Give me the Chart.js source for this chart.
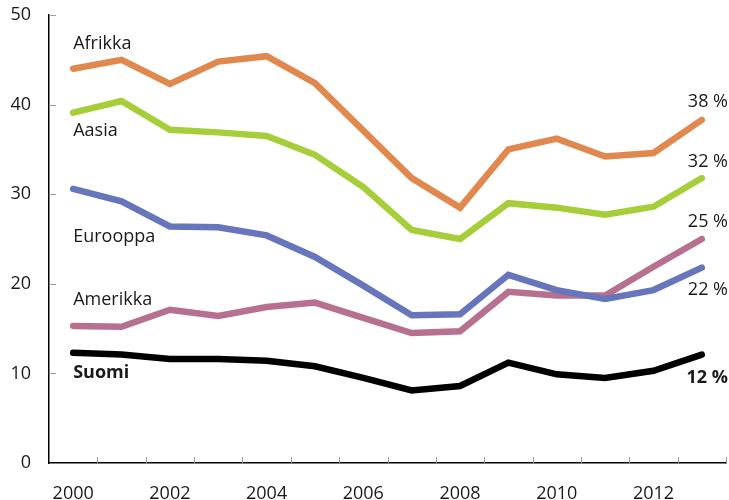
<!DOCTYPE html>
<html>
<head>
<meta charset="utf-8">
<script src="https://cdn.jsdelivr.net/npm/chart.js@4"></script>
<style>
  html, body { margin: 0; padding: 0; background: #fff; }
  #wrap { width: 729px; height: 500px; }
</style>
</head>
<body>
<div id="wrap"><canvas id="chart"></canvas></div>
<script>
// --- DATA ---
const years = ['2000', '2001', '2002', '2003', '2004', '2005', '2006',
               '2007', '2008', '2009', '2010', '2011', '2012', '2013'];

const afrikka  = [44.0, 45.0, 42.3, 44.8, 45.4, 42.4, 37.1, 31.8, 28.5, 35.0, 36.2, 34.2, 34.6, 38.3];
const aasia    = [39.1, 40.4, 37.2, 36.9, 36.5, 34.4, 30.8, 26.0, 25.0, 29.0, 28.5, 27.7, 28.6, 31.8];
const eurooppa = [30.6, 29.2, 26.4, 26.3, 25.4, 23.0, 19.8, 16.5, 16.6, 21.0, 19.3, 18.3, 19.3, 21.8];
const amerikka = [15.3, 15.2, 17.1, 16.4, 17.4, 17.9, 16.2, 14.5, 14.7, 19.1, 18.7, 18.7, 21.9, 25.0];
const suomi    = [12.3, 12.1, 11.6, 11.6, 11.4, 10.8,  9.5,  8.1,  8.6, 11.2,  9.9,  9.5, 10.3, 12.1];

const yTicks = [0, 10, 20, 30, 40, 50];

const FONT = '"Open Sans", "Liberation Sans", sans-serif';
const TEXT = '#1a1a1a';

// name label (left) and end label (right) offsets in px, relative to first/last point
const series = [
    { name: 'Afrikka',  data: afrikka,  color: '#E1884F', bold: false, nameDy: -25, endDy: -18 },
    { name: 'Aasia',    data: aasia,    color: '#A6CE39', bold: false, nameDy: 18,  endDy: -16 },
    { name: 'Eurooppa', data: eurooppa, color: '#6675BC', bold: false, nameDy: 48,  endDy: 22 },
    { name: 'Amerikka', data: amerikka, color: '#B87090', bold: false, nameDy: -26, endDy: -17 },
    { name: 'Suomi',    data: suomi,    color: '#000000', bold: true,  nameDy: 20,  endDy: 23 }
];

// --- PLUGIN: inner ticks + labels ---
const decorPlugin = {
    id: 'decor',
    afterDatasetsDraw(chart) {
        const ctx = chart.ctx;
        const xs = chart.scales.x;
        const ys = chart.scales.y;
        const area = chart.chartArea;

        ctx.save();
        ctx.strokeStyle = '#9a9a9a';
        ctx.lineWidth = 1;
        // y ticks, pointing inwards
        yTicks.forEach(v => {
            if (v === 0) return;
            const py = Math.round(ys.getPixelForValue(v)) + 0.5;
            ctx.beginPath();
            ctx.moveTo(area.left, py);
            ctx.lineTo(area.left + 7, py);
            ctx.stroke();
        });
        // x ticks between categories, pointing inwards
        for (let i = 1; i <= years.length; i++) {
            const px = Math.round(xs.getPixelForValue(i - 0.5)) + 0.5;
            ctx.beginPath();
            ctx.moveTo(px, area.bottom);
            ctx.lineTo(px, area.bottom - 6);
            ctx.stroke();
        }

        // series labels
        ctx.fillStyle = TEXT;
        ctx.textBaseline = 'middle';
        const last = years.length - 1;
        series.forEach(s => {
            ctx.font = (s.bold ? 'bold ' : '') + '18px ' + FONT;
            ctx.textAlign = 'left';
            ctx.fillText(s.name, xs.getPixelForValue(0), ys.getPixelForValue(s.data[0]) + s.nameDy);

            ctx.textAlign = 'right';
            const endTxt = Math.round(s.data[last]) + ' %';
            ctx.fillText(endTxt, chart.width - 1, ys.getPixelForValue(s.data[last]) + s.endDy);
        });
        ctx.restore();
    }
};

// --- CHART ---
const ctxMain = document.getElementById('chart').getContext('2d');
new Chart(ctxMain, {
    type: 'line',
    data: {
        labels: years,
        datasets: series.map(s => ({
            label: s.name,
            data: s.data,
            borderColor: s.color,
            backgroundColor: s.color,
            borderWidth: 6.5,
            pointRadius: 0,
            tension: 0,
            borderCapStyle: 'round',
            borderJoinStyle: 'miter',
            fill: false
        }))
    },
    options: {
        responsive: true,
        maintainAspectRatio: false,
        animation: false,
        devicePixelRatio: 1,
        layout: { padding: { top: 15, right: 3, left: 0, bottom: 0 } },
        plugins: {
            legend: { display: false },
            tooltip: { enabled: false },
            title: { display: false }
        },
        scales: {
            x: {
                type: 'category',
                offset: true,
                grid: { display: false, drawOnChartArea: false, drawTicks: false },
                border: { display: true, color: '#000', width: 1.5 },
                ticks: {
                    autoSkip: false,
                    maxRotation: 0,
                    padding: 20,
                    color: TEXT,
                    font: { family: FONT, size: 18 },
                    callback: function (val, idx) {
                        return idx % 2 === 0 ? years[idx] : '';
                    }
                },
                afterFit: scale => { scale.height = 37; }
            },
            y: {
                min: 0,
                max: 50,
                afterBuildTicks: scale => { scale.ticks = yTicks.map(v => ({ value: v })); },
                grid: { display: false, drawOnChartArea: false, drawTicks: false },
                border: { display: true, color: '#000', width: 1.5 },
                ticks: {
                    padding: 18,
                    color: TEXT,
                    font: { family: FONT, size: 18 }
                },
                afterFit: scale => {
                    scale.width = 49;
                    scale.paddingTop = 0;
                    scale.paddingBottom = 0;
                }
            }
        }
    },
    plugins: [decorPlugin]
});
</script>
</body>
</html>
